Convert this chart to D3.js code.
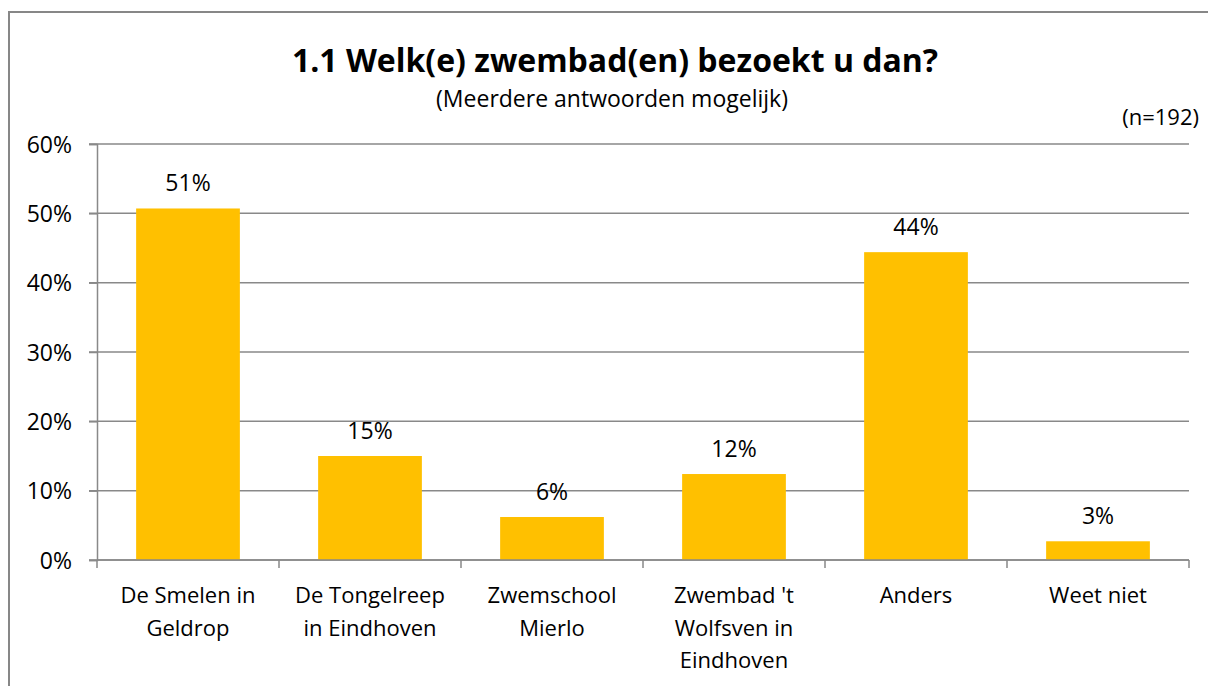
<!DOCTYPE html>
<html>
<head>
<meta charset="utf-8">
<script src="https://cdn.jsdelivr.net/npm/d3@7"></script>
<style>
  body { margin: 0; background: #fff; }
  svg text { font-family: 'Open Sans', sans-serif; fill: #000; }
</style>
</head>
<body>
<div id="chart"></div>
<script>
let width = 1208
let height = 686

// data
let categories = ['De Smelen in Geldrop', 'De Tongelreep in Eindhoven', 'Zwemschool Mierlo',
    "Zwembad 't Wolfsven in Eindhoven", 'Anders', 'Weet niet']
let categoryLines = [
    ['De Smelen in', 'Geldrop'],
    ['De Tongelreep', 'in Eindhoven'],
    ['Zwemschool', 'Mierlo'],
    ["Zwembad 't", 'Wolfsven in', 'Eindhoven'],
    ['Anders'],
    ['Weet niet']
]
let values = [0.507, 0.150, 0.062, 0.124, 0.444, 0.027]
let yTicks = [0, 0.1, 0.2, 0.3, 0.4, 0.5, 0.6]

let barColor = '#FFC000'
let gridColor = '#898989'

let margin = { top: 144, right: 19, bottom: 126, left: 97 }

let svg = d3.select('#chart').append('svg')
    .attr('width', width)
    .attr('height', height)

// chart border (runs off the right and bottom edge)
svg.append('rect')
    .attr('x', 9)
    .attr('y', 12)
    .attr('width', 1230)
    .attr('height', 700)
    .attr('fill', 'none')
    .attr('stroke', '#878787')
    .attr('stroke-width', 2)

let x = d3.scaleBand()
    .domain(categories)
    .range([margin.left, width - margin.right])
    .paddingInner(0.43)
    .paddingOuter(0.215)

let y = d3.scaleLinear()
    .domain([0, 0.6])
    .range([height - margin.bottom, margin.top])

// gridlines
svg.append('g')
    .selectAll('line')
    .data(yTicks)
    .join('line')
    .attr('x1', margin.left - 8)
    .attr('x2', width - margin.right)
    .attr('y1', d => y(d))
    .attr('y2', d => y(d))
    .attr('stroke', gridColor)
    .attr('stroke-width', 1.5)

// y axis
let yAxis = svg.append('g')
    .attr('transform', `translate(${margin.left},0)`)
    .call(d3.axisLeft(y).tickValues(yTicks).tickFormat(d3.format('.0%')).tickSize(8).tickPadding(17))
yAxis.select('.domain').attr('stroke', gridColor).attr('stroke-width', 1.5)
yAxis.selectAll('.tick line').attr('stroke', gridColor).attr('stroke-width', 1.5)
yAxis.selectAll('.tick text')
    .style('font-size', '23px')
    .attr('fill', '#000')
    .attr('dy', '0.35em')

// bars
svg.append('g')
    .selectAll('rect')
    .data(values)
    .join('rect')
    .attr('x', (d, i) => x(categories[i]))
    .attr('y', d => y(d))
    .attr('width', x.bandwidth())
    .attr('height', d => y(0) - y(d))
    .attr('fill', barColor)

// value labels
svg.append('g')
    .selectAll('text')
    .data(values)
    .join('text')
    .attr('x', (d, i) => x(categories[i]) + x.bandwidth() / 2)
    .attr('y', d => y(d) - 17)
    .attr('text-anchor', 'middle')
    .style('font-size', '23px')
    .text(d => d3.format('.0%')(d))

// x axis
let xAxis = svg.append('g')
    .attr('transform', `translate(0,${y(0)})`)
xAxis.append('line')
    .attr('x1', margin.left)
    .attr('x2', width - margin.right)
    .attr('stroke', gridColor)
    .attr('stroke-width', 1.5)
xAxis.selectAll('.xtick')
    .data(d3.range(categories.length + 1))
    .join('line')
    .attr('class', 'xtick')
    .attr('x1', i => margin.left + i * (width - margin.left - margin.right) / categories.length)
    .attr('x2', i => margin.left + i * (width - margin.left - margin.right) / categories.length)
    .attr('y1', 0)
    .attr('y2', 8)
    .attr('stroke', gridColor)
    .attr('stroke-width', 1.5)

xAxis.selectAll('.xlabel')
    .data(categories)
    .join('text')
    .attr('class', 'xlabel')
    .attr('text-anchor', 'middle')
    .attr('x', d => x(d) + x.bandwidth() / 2)
    .attr('y', 43)
    .style('font-size', '22px')
    .each(function (d, i) {
        d3.select(this).selectAll('tspan')
            .data(categoryLines[i])
            .join('tspan')
            .attr('x', x(d) + x.bandwidth() / 2)
            .attr('dy', (t, j) => j === 0 ? 0 : 32.5)
            .text(t => t)
    })

// titles
svg.append('text')
    .attr('x', 615)
    .attr('y', 72)
    .attr('text-anchor', 'middle')
    .style('font-size', '32px')
    .style('font-weight', 'bold')
    .text('1.1 Welk(e) zwembad(en) bezoekt u dan?')

svg.append('text')
    .attr('x', 612)
    .attr('y', 107)
    .attr('text-anchor', 'middle')
    .style('font-size', '23px')
    .text('(Meerdere antwoorden mogelijk)')

svg.append('text')
    .attr('x', 1199)
    .attr('y', 125)
    .attr('text-anchor', 'end')
    .style('font-size', '22px')
    .text('(n=192)')
</script>
</body>
</html>
